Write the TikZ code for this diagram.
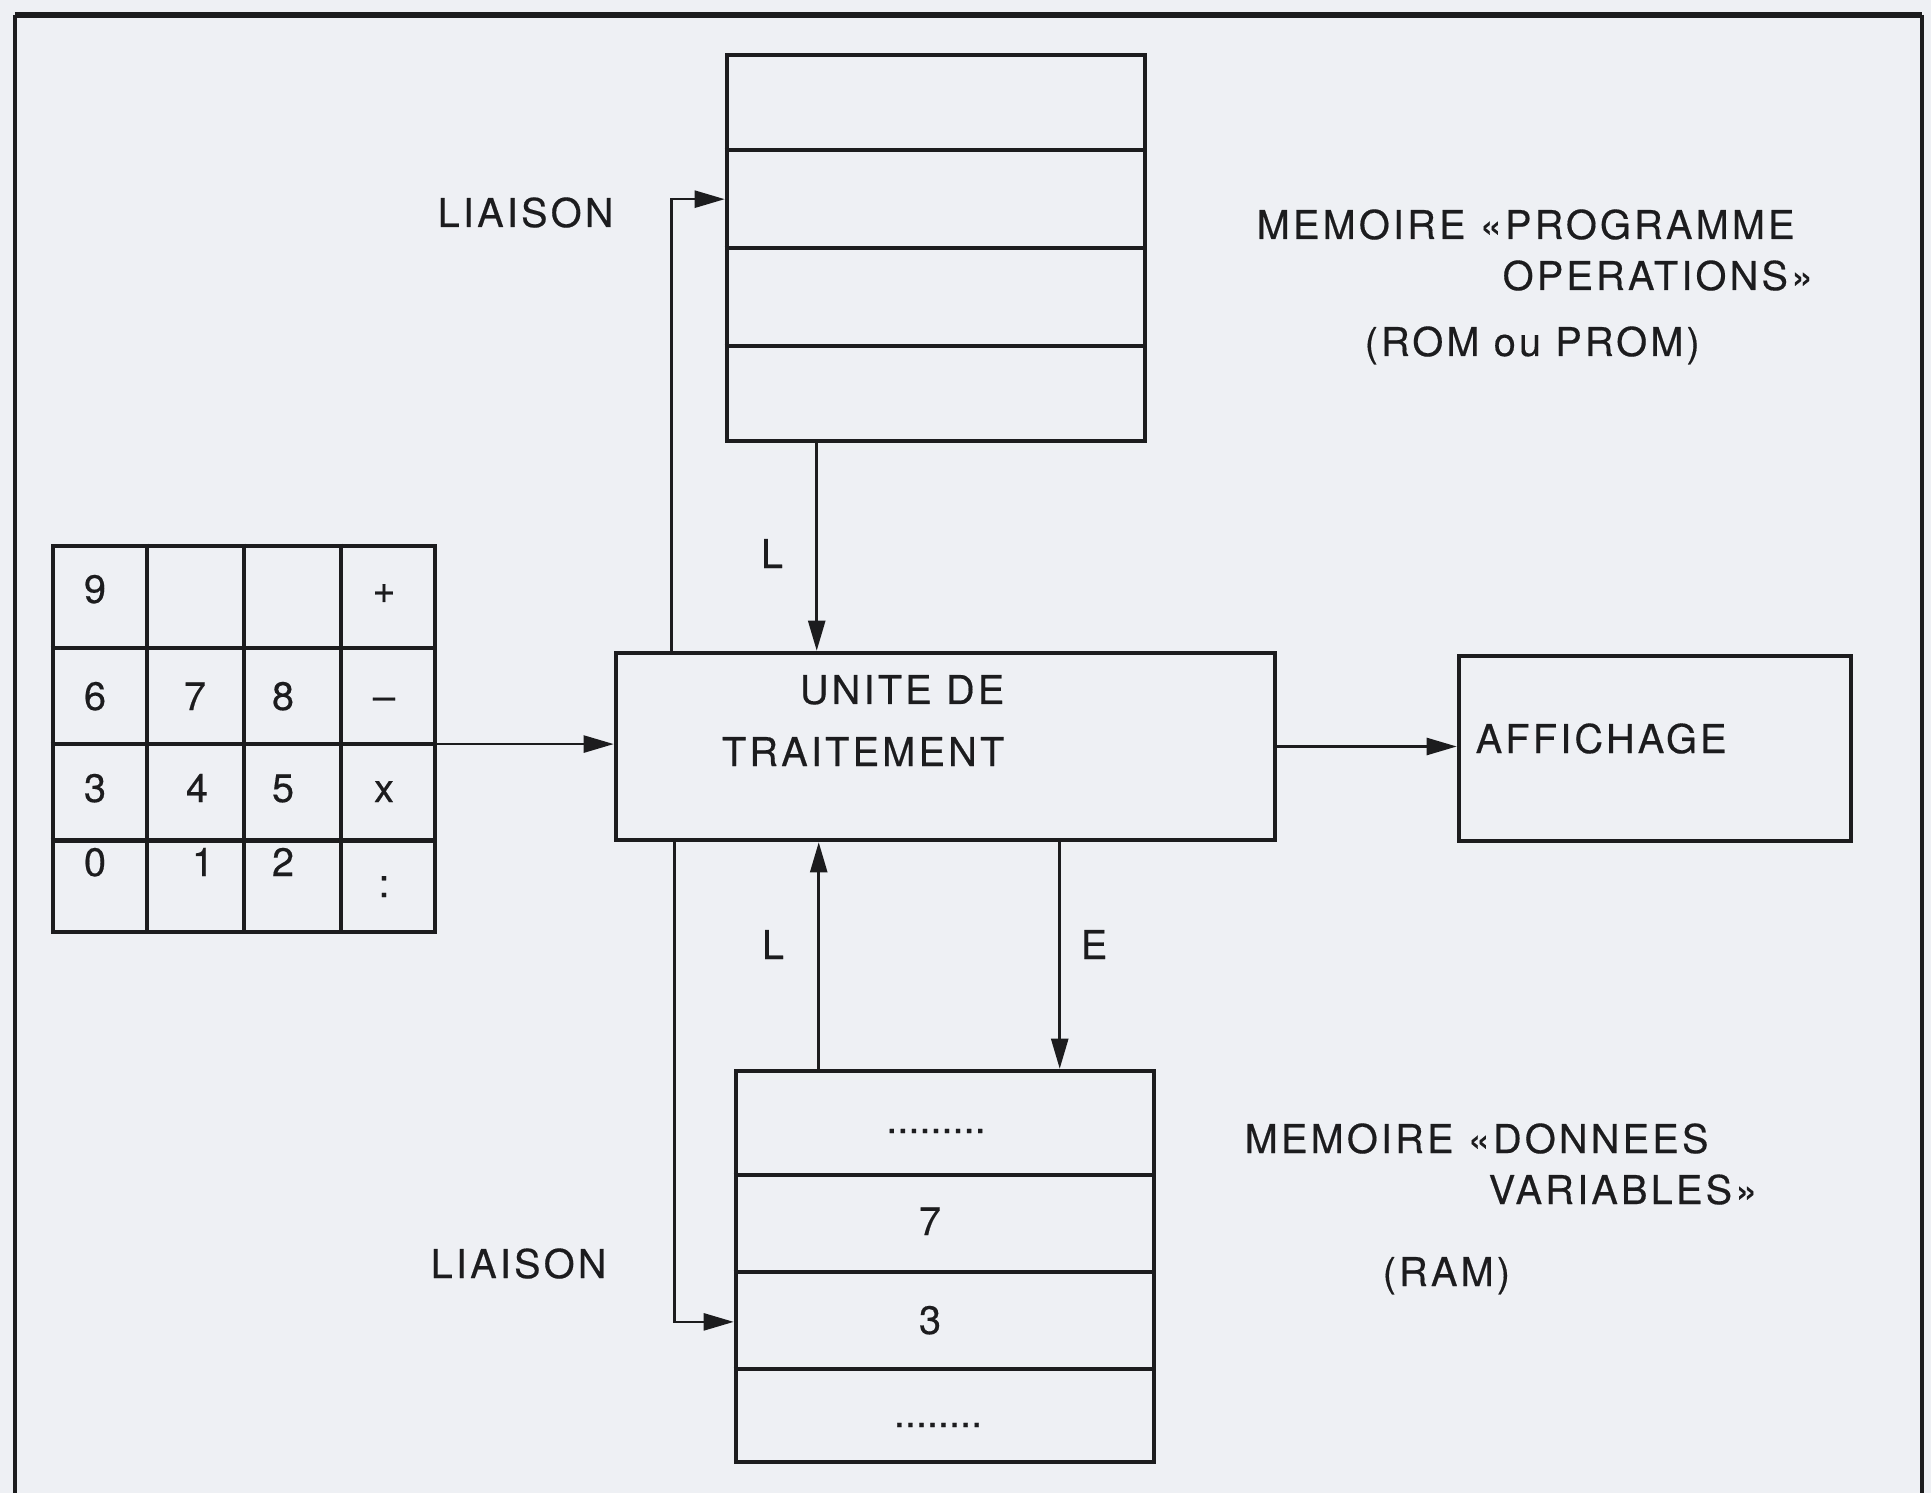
\documentclass[tikz,border=0pt]{standalone}
\usepackage{fontspec}
\setmainfont{TeX Gyre Heros}[LetterSpace=8, FakeBold=0.4]
\usetikzlibrary{arrows.meta, positioning, calc}
\definecolor{inkdark}{HTML}{1C1C1E}
\definecolor{paperbg}{HTML}{EEF0F4}

\begin{document}
\begin{tikzpicture}[x=1cm, y=-1cm, font=\fontsize{11.3}{13}\selectfont,
  box/.style={draw=inkdark, line width=1.3pt, inner sep=0pt},
  rule/.style={draw=inkdark, line width=1.2pt},
  conn/.style={draw=inkdark, line width=0.7pt, -{Triangle[length=3mm,width=1.7mm]}},
  lab/.style={text=inkdark, inner sep=0pt}]
  \fill[paperbg] (0,0) rectangle (19.31,14.93);
  \useasboundingbox (0,0) rectangle (19.31,14.93);
  \draw[inkdark, line width=1.8pt] (0.15,0.15) -- (19.22,0.15);
  \draw[inkdark, line width=1.3pt] (0.15,14.93) -- (0.15,0.15);
  \draw[inkdark, line width=1.3pt] (19.22,0.15) -- (19.22,14.93);

  \node[box, minimum width=4.18cm, minimum height=3.86cm] (rom) at (9.36,2.48) {};
  \node[box, minimum width=6.59cm, minimum height=1.87cm] (ut) at (9.455,7.465) {};
  \node[box, minimum width=3.92cm, minimum height=1.85cm] (aff) at (16.55,7.485) {};
  \node[box, minimum width=4.18cm, minimum height=3.91cm] (ram) at (9.45,12.665) {};
  \node[box, minimum width=3.82cm, minimum height=3.86cm] (kbd) at (2.44,7.39) {};

  \foreach \f in {0.25,0.5,0.75}{%
    \draw[rule] ($(rom.north west)!\f!(rom.south west)$) -- ($(rom.north east)!\f!(rom.south east)$);
    \draw[rule] ($(kbd.north west)!\f!(kbd.north east)$) -- ($(kbd.south west)!\f!(kbd.south east)$);}
  \foreach \f in {0.268,0.513,0.76}{%
    \draw[rule] ($(ram.north west)!\f!(ram.south west)$) -- ($(ram.north east)!\f!(ram.south east)$);
    \draw[rule] ($(kbd.north west)!\f!(kbd.south west)$) -- ($(kbd.north east)!\f!(kbd.south east)$);}

  \foreach \x/\y/\t [count=\i] in {0.95/6.03/9, 3.84/6.03/+,
      0.95/7.10/6, 1.95/7.10/7, 2.83/7.10/8, 3.84/7.10/\textendash,
      0.95/8.02/3, 1.97/8.02/4, 2.83/8.02/5, 3.84/8.02/x,
      0.95/8.76/0, 2.03/8.76/1, 2.83/8.76/2, 3.84/8.97/:}{%
    \node[lab, anchor=base] (key\i) at (\x,\y) {\t};}

  \node[lab] (dotsA) at (9.36,11.31) {\addfontfeature{LetterSpace=0}.........};
  \node[lab, anchor=base] (cellA) at (9.30,12.35) {7};
  \node[lab, anchor=base] (cellB) at (9.30,13.34) {3};
  \node[lab] (dotsB) at (9.38,14.25) {\addfontfeature{LetterSpace=0}........};

  \node[lab, anchor=base east] (utA) at (10.05,7.04) {UNITE DE};
  \node[lab, anchor=base east] (utB) at (10.05,7.66) {TRAITEMENT};
  \node[lab, anchor=base west] (affA) at (14.75,7.53) {AFFICHAGE};

  \node[lab, anchor=base west] (liaisonA) at (4.37,2.27) {LIAISON};
  \node[lab, anchor=base west] (liaisonB) at (4.30,12.78) {LIAISON};
  \node[lab, anchor=base] (readA) at (7.72,5.68) {L};
  \node[lab, anchor=base] (readB) at (7.73,9.59) {L};
  \node[lab, anchor=base] (writeB) at (10.94,9.59) {E};

  \node[lab, anchor=base west] (romA) at (12.56,2.39) {MEMOIRE «PROGRAMME};
  \node[lab, anchor=base west] (romB) at (15.02,2.90) {OPERATIONS»};
  \node[lab, anchor=base west] (romC) at (13.64,3.56) {(ROM ou PROM)};
  \node[lab, anchor=base west] (ramA) at (12.44,11.53) {MEMOIRE «DONNEES};
  \node[lab, anchor=base west] (ramB) at (14.88,12.04) {VARIABLES»};
  \node[lab, anchor=base west] (ramC) at (13.82,12.86) {(RAM)};

  \draw[conn] ($(kbd.north east)!0.513!(kbd.south east)$) coordinate (kbdE) -- (kbdE -| ut.west);
  \draw[conn] (ut.east) -- (ut.east -| aff.west);
  \draw[conn] ($(ut.north west)+(0.58,0)$) |- ($(rom.north west)!0.375!(rom.south west)$);
  \draw[conn] ($(rom.south west)+(0.92,0)$) coordinate (romL) -- (romL |- ut.north);
  \draw[conn] ($(ram.north west)+(0.85,0)$) coordinate (ramL) -- (ramL |- ut.south);
  \draw[conn] ($(ut.south west)+(4.46,0)$) coordinate (utE) -- (utE |- ram.north);
  \draw[conn] ($(ut.south west)+(0.61,0)$) |- ($(ram.north west)!0.64!(ram.south west)$);
\end{tikzpicture}
\end{document}
